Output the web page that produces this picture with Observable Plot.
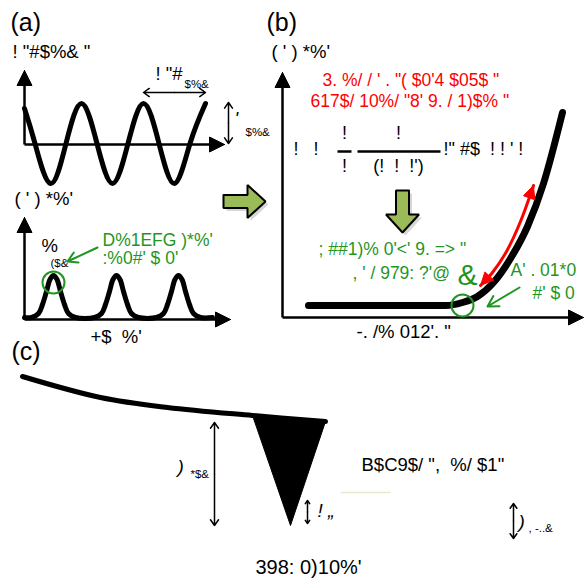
<!DOCTYPE html>
<html><head><meta charset="utf-8">
<script src="https://cdn.jsdelivr.net/npm/d3@7"></script>
<script src="https://cdn.jsdelivr.net/npm/@observablehq/plot@0.6"></script>
<style>body{margin:0;background:#fff}svg{display:block}</style>
</head><body><div id="chart"></div>
<script>
// ---------------- data ----------------
// panel (a) top: sine-like wave key points (peaks, troughs, crossings)
const waveX = [24, 34.5, 50, 65.5, 81, 96.5, 112, 127.5, 143, 158.5, 174, 189.5, 205];
const waveY = [108, 143, 183, 143, 103, 143, 183, 143, 103, 143, 183, 143, 103];
// panel (a) bottom: three narrow peaks
const peakCenters = [53, 116, 178];
const peakDx = [-22, -15, -11, -7, -3.5, 0, 3.5, 7, 11, 15, 22];
const peakY  = [317, 313, 304, 291, 279, 275, 279, 291, 304, 313, 317];
const peakBase = [[24, 317], [212, 317]];
// panel (b): response curve and red double arrow along it
const curveB = [[308,305],[445,305],[462,302],[477,296],[493,282],[510,258],[527,226],[543,183],[562,112]];
const redArc = [[480,285],[492,272],[506,251],[520,221],[533,185]];
// panel (c): bent line and black wedge
const lineC = [[22,376],[100,397],[167,407],[252,415],[325,421]];
const wedge = [[252,415],[325,421],[290,525]];

// axes with filled heads: [x1,y1,x2(tip),y2(tip)]
const axes = [[24,144,24,70],[24,144,224,144],[24,319,24,217],[24,319,230,319],[282,317,282,72],[282,317,583,317]];
// thin double arrows (open heads): [x1,y1,x2,y2]
const dblArrows = [[143,92,205,92],[228,102,228,143],[214,422,214,525],[307,500,307,523],[513,503,513,538]];
// green pointer arrows: [from x,y, to x,y]
const greenPointers = [[97,247,67,261],[519,287,487,306]];
// green circles
const circles = [[53,282],[462,305]];
// block arrows: [centerX, centerY, direction]
const blockArrows = [[244,201,"right"],[402,211,"down"]];
// fraction bars
const bars = [[337,151,351,151],[357,151,440,151]];
const faint = [[340,492,390,492]];

// texts
const panelTags = [["(a)",10,22],["(b)",266,22],["(c)",11,351]];
const blackText = [
  ['! "#$%& "',12,52],['! "#',155,74],["( ' ) *%'",14,199],["%",41,246],
  ["+$  %'",90,337],["( ' ) *%'",271,52],['-. /% 012\'. "',356,332],
  ['B$C9$/ ",  %/ $1"',361,465]
];
const bigText = [["398: 0)10%'",255,567]];
const subText = [["$%&",184,84],["$%&",245,132],["($&",50,263],["*$&",190,474],[", -..&",528,528]];
const italicText = [["'",234,118],[")",177,466],["! \u201e",317,510],[")",518,521]];
const eqLeft = [["!   !",293,149],['!" #$  ! ! \' !',443,149]];
const eqCenter = [["!",344,133],["!",344,166],["!",398,133],["(!  !  !')",398,166]];
const redText = [['3. %/ / \' . "( $0\'4 $05$ "',322,80],['617$/ 10%/ "8\' 9. / 1)$% "',310,101]];
const greenText = [
  ["D%1EFG )*%'",102,240],[":%0#' $ 0'",102,258],
  ['; ##1)% 0\'<\' 9. => "',318,249],[", ' / 979: ?'@",352,273],
  ["A' . 01*0",510,270],["#' $ 0",532,293]
];
const greenBig = [["&",467,275]];

// ---------------- helpers (geometry only) ----------------
const FONT = "'Liberation Sans', Arial, sans-serif";
const GREEN = "#1f961f", RED = "#ff0000", BLOCK = "#9bbb59";
function headPoly(tx, ty, dx, dy, len, halfW, id) {
  const L = Math.hypot(dx, dy), ux = dx / L, uy = dy / L;
  const bx = tx - ux * len, by = ty - uy * len;
  return [[tx,ty],[bx - uy*halfW, by + ux*halfW],[bx + uy*halfW, by - ux*halfW],[tx,ty]].map(p => ({x:p[0], y:p[1], id}));
}
function blockPoly([cx, cy, dir], i) {
  const len = 42, bodyH = 6.5, headH = 16.5, headL = 18;
  let pts = [[-len/2,-bodyH],[len/2-headL,-bodyH],[len/2-headL,-headH],[len/2,0],[len/2-headL,headH],[len/2-headL,bodyH],[-len/2,bodyH],[-len/2,-bodyH]];
  if (dir === "down") pts = pts.map(([a,b]) => [-b, a]);
  return pts.map(([a,b]) => ({x: cx + a, y: cy + b, id: i}));
}
const pt = a => ({x:a[0], y:a[1]});

const wavePts = waveX.map((x,i) => ({x, y: waveY[i]}));
const peakPts = [pt(peakBase[0])];
peakCenters.forEach(c => peakDx.forEach((d,i) => peakPts.push({x: c + d, y: peakY[i]})));
peakPts.push(pt(peakBase[1]));

const axisHeads = axes.flatMap((a,i) => headPoly(a[2], a[3], a[2]-a[0], a[3]-a[1], 15, 7.5, i));
const redHeads = [
  ...headPoly(redArc[0][0], redArc[0][1], redArc[0][0]-redArc[1][0], redArc[0][1]-redArc[1][1], 13, 6, 0),
  ...headPoly(redArc[4][0], redArc[4][1], redArc[4][0]-redArc[3][0], redArc[4][1]-redArc[3][1], 13, 6, 1)
];
const blocks = blockArrows.flatMap(blockPoly);
const shadows = blocks.map(p => ({x: p.x + 3, y: p.y + 3, id: p.id}));
const dblHalves = dblArrows.flatMap(([x1,y1,x2,y2]) => {
  const mx = (x1+x2)/2, my = (y1+y2)/2;
  return [{x1:mx,y1:my,x2:x1,y2:y1},{x1:mx,y1:my,x2:x2,y2:y2}];
});
const seg = a => ({x1:a[0], y1:a[1], x2:a[2], y2:a[3]});
const T = a => ({t:a[0], x:a[1], y:a[2]});
const shorten = a => { const L = Math.hypot(a[2]-a[0], a[3]-a[1]); return {x1:a[0], y1:a[1], x2:a[2]-(a[2]-a[0])/L*10, y2:a[3]-(a[3]-a[1])/L*10}; };

const txt = (data, o) => Plot.text(data.map(T), {x:"x", y:"y", text:"t", textAnchor:"start", fontFamily: FONT, fill:"black", ...o});

const chart = Plot.plot({
  width: 584, height: 586, margin: 0,
  x: {domain:[0,584], range:[0,584], axis:null},
  y: {domain:[0,586], range:[0,586], axis:null},
  style: {background:"white", fontFamily: FONT},
  marks: [
    // block arrows with soft shadow
    Plot.line(shadows, {x:"x", y:"y", z:"id", fill:"#000", fillOpacity:0.16, stroke:"none"}),
    Plot.line(blocks, {x:"x", y:"y", z:"id", fill:BLOCK, stroke:"black", strokeWidth:2, strokeLinejoin:"miter"}),
    // axes
    Plot.link(axes.map(shorten), {x1:"x1",y1:"y1",x2:"x2",y2:"y2", stroke:"black", strokeWidth:2.5}),
    Plot.line(axisHeads, {x:"x", y:"y", z:"id", fill:"black", stroke:"black", strokeWidth:1}),
    // curves
    Plot.line(wavePts, {x:"x", y:"y", curve:"natural", stroke:"black", strokeWidth:5}),
    Plot.line(peakPts, {x:"x", y:"y", curve:"catmull-rom", stroke:"black", strokeWidth:5}),
    Plot.line(curveB.map(pt), {x:"x", y:"y", curve:"monotone-x", stroke:"black", strokeWidth:7, strokeLinecap:"round"}),
    Plot.line(redArc.map(pt), {x:"x", y:"y", curve:"catmull-rom", stroke:RED, strokeWidth:3}),
    Plot.line(redHeads, {x:"x", y:"y", z:"id", fill:RED, stroke:RED, strokeWidth:1}),
    Plot.line(lineC.map(pt), {x:"x", y:"y", curve:"catmull-rom", stroke:"black", strokeWidth:5}),
    Plot.line([...wedge, wedge[0]].map(pt), {x:"x", y:"y", fill:"black", stroke:"black", strokeWidth:1}),
    // thin arrows
    Plot.arrow(dblHalves, {x1:"x1",y1:"y1",x2:"x2",y2:"y2", stroke:"black", strokeWidth:1.5, headLength:7, headAngle:70}),
    Plot.arrow(greenPointers.map(seg), {x1:"x1",y1:"y1",x2:"x2",y2:"y2", stroke:GREEN, strokeWidth:2, headLength:9, headAngle:60}),
    Plot.link(bars.map(seg), {x1:"x1",y1:"y1",x2:"x2",y2:"y2", stroke:"black", strokeWidth:2.5}),
    Plot.link(faint.map(seg), {x1:"x1",y1:"y1",x2:"x2",y2:"y2", stroke:"#e3ead0", strokeWidth:1.5}),
    Plot.dot(circles.map(pt), {x:"x", y:"y", r:11, stroke:GREEN, strokeWidth:2, fill:"none"}),
    // text
    txt(panelTags, {fontSize:25}),
    txt(blackText, {fontSize:18.5}),
    txt(bigText, {fontSize:20}),
    txt(subText, {fontSize:11.5}),
    txt(italicText, {fontSize:19, fontStyle:"italic"}),
    txt(eqLeft, {fontSize:18}),
    txt(eqCenter, {fontSize:18, textAnchor:"middle"}),
    txt(redText, {fontSize:17.5, fill:RED}),
    txt(greenText, {fontSize:17.5, fill:GREEN}),
    txt(greenBig, {fontSize:30, fill:GREEN, textAnchor:"middle"})
  ]
});
document.getElementById("chart").append(chart);
</script>
</body></html>
